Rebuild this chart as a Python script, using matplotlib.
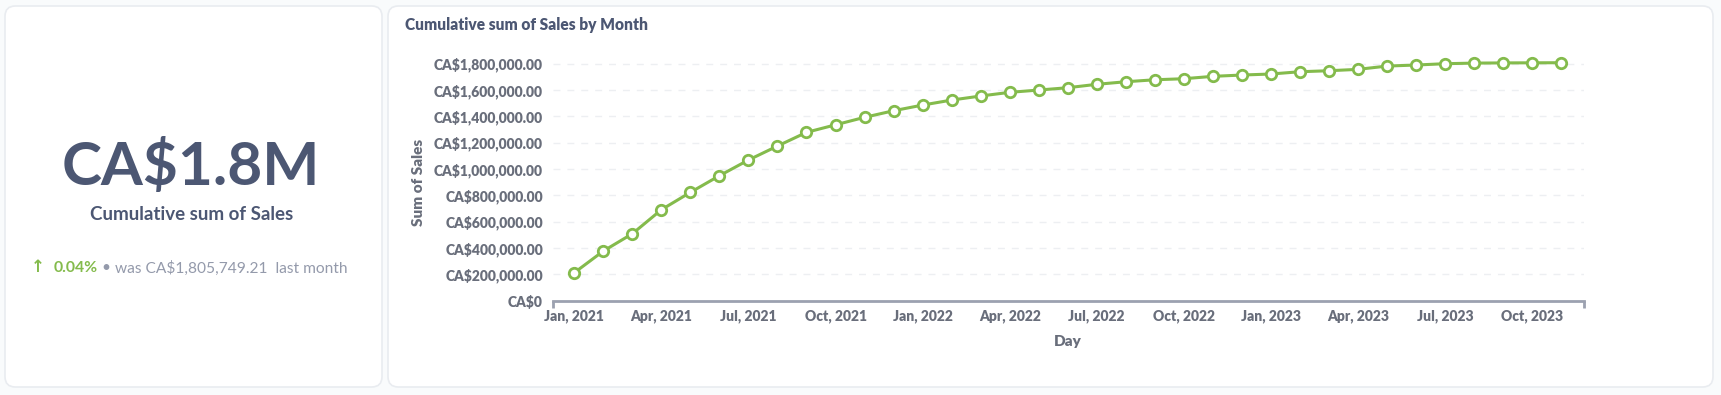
import matplotlib
matplotlib.use("Agg")
import matplotlib.pyplot as plt
from matplotlib.patches import FancyBboxPatch
from matplotlib.ticker import FuncFormatter, FixedLocator

# ---------------- data ----------------
months = ["Jan, 2021", "Feb, 2021", "Mar, 2021", "Apr, 2021", "May, 2021", "Jun, 2021",
          "Jul, 2021", "Aug, 2021", "Sep, 2021", "Oct, 2021", "Nov, 2021", "Dec, 2021",
          "Jan, 2022", "Feb, 2022", "Mar, 2022", "Apr, 2022", "May, 2022", "Jun, 2022",
          "Jul, 2022", "Aug, 2022", "Sep, 2022", "Oct, 2022", "Nov, 2022", "Dec, 2022",
          "Jan, 2023", "Feb, 2023", "Mar, 2023", "Apr, 2023", "May, 2023", "Jun, 2023",
          "Jul, 2023", "Aug, 2023", "Sep, 2023", "Oct, 2023", "Nov, 2023"]
cum_sales = [212500, 377000, 508500, 690700, 822600, 948800,
             1068000, 1174000, 1278000, 1335000, 1392000, 1442000,
             1485000, 1523000, 1553700, 1581700, 1599000, 1616700,
             1642500, 1662000, 1677000, 1685000, 1703000, 1713000,
             1720700, 1738000, 1745700, 1756000, 1781000, 1789000,
             1799000, 1803500, 1805000, 1805749.21, 1806470]
y_ticks = [0, 200000, 400000, 600000, 800000, 1000000, 1200000, 1400000, 1600000, 1800000]
x_tick_labels = ["Jan, 2021", "Apr, 2021", "Jul, 2021", "Oct, 2021", "Jan, 2022", "Apr, 2022",
                 "Jul, 2022", "Oct, 2022", "Jan, 2023", "Apr, 2023", "Jul, 2023", "Oct, 2023"]

kpi_value = "CA$1.8M"
kpi_title = "Cumulative sum of Sales"
kpi_change = "0.04%"
kpi_prev = "was CA$1,805,749.21  last month"
chart_title = "Cumulative sum of Sales by Month"

# ---------------- style ----------------
W, H = 1721, 395
DARK = "#4C5773"
GRAY = "#696E7B"
LIGHT = "#949AAB"
GREEN = "#84BB4C"
FONT = ["Lato", "DejaVu Sans"]
plt.rcParams["font.family"] = FONT
plt.rcParams["font.weight"] = "heavy"
plt.rcParams["axes.labelweight"] = "heavy"

fig = plt.figure(figsize=(W / 100, H / 100), dpi=100)
fig.patch.set_facecolor("#F9FBFC")

def fx(px):
    return px / W

def fy(py):
    return 1 - py / H

# cards
for (x0, y0, x1, y1) in [(5, 6, 382, 387), (388, 6, 1713, 387)]:
    card = FancyBboxPatch((fx(x0), fy(y1)), fx(x1 - x0), (y1 - y0) / H,
                          boxstyle="round,pad=0,rounding_size=0.006",
                          transform=fig.transFigure, facecolor="white",
                          edgecolor="#E9ECF0", linewidth=1.2, zorder=-5,
                          mutation_aspect=W / H)
    fig.patches.append(card)

# ---------------- KPI card ----------------
fig.text(fx(191), fy(167), kpi_value, ha="center", va="center",
         fontsize=43.5, fontweight="bold", color=DARK)
fig.text(fx(192), fy(215), kpi_title, ha="center", va="center",
         fontsize=13.5, fontweight="bold", color=DARK)
fig.text(fx(38), fy(267), "\u2191", ha="center", va="center",
         fontsize=12, fontweight="bold", color=GREEN, family=["DejaVu Sans"])
fig.text(fx(54), fy(268), kpi_change, ha="left", va="center",
         fontsize=11.3, fontweight="bold", color=GREEN)
fig.text(fx(106), fy(268), "\u2022", ha="center", va="center",
         fontsize=11.2, fontweight="normal", color=LIGHT)
fig.text(fx(115), fy(268), kpi_prev, ha="left", va="center",
         fontsize=11.2, fontweight="normal", color=LIGHT)

# ---------------- chart card ----------------
fig.text(fx(405), fy(25), chart_title, ha="left", va="center",
         fontsize=11.2, fontweight="heavy", color=DARK)

ax_left, ax_right = 552.7, 1583.7
ax_bottom, ax_top = 300.7, 50.4
ax = fig.add_axes([fx(ax_left), fy(ax_bottom), fx(ax_right - ax_left), (ax_bottom - ax_top) / H])
ax.set_facecolor("none")
ax.set_zorder(5)

x = list(range(len(months)))
ax.plot(x, cum_sales, color=GREEN, linewidth=2.2, marker="o", markersize=7.5,
        markerfacecolor="white", markeredgecolor=GREEN, markeredgewidth=2, zorder=3,
        clip_on=False)

ax.set_xlim(-0.745, len(months) - 1 + 0.78)
ax.set_ylim(0, 1900000)

ax.yaxis.set_major_locator(FixedLocator(y_ticks))
ax.yaxis.set_major_formatter(FuncFormatter(lambda v, p: "CA$0" if v == 0 else f"CA${v:,.2f}"))
tick_pos = [months.index(m) for m in x_tick_labels]
ax.set_xticks(tick_pos)
ax.set_xticklabels(x_tick_labels)

for v in y_ticks[1:]:
    ax.axhline(v, color="#EDEFF2", linewidth=1, dashes=(5, 5), zorder=1)

for s in ["top", "right", "left"]:
    ax.spines[s].set_visible(False)
ax.spines["bottom"].set_color("#9CA1B0")
ax.spines["bottom"].set_linewidth(2)

ax.tick_params(axis="y", length=0, pad=7, labelsize=10, labelcolor=GRAY)
ax.tick_params(axis="x", length=0, pad=6.5, labelsize=10, labelcolor=GRAY)

# end ticks on x axis
for xe in ax.get_xlim():
    ax.plot([xe, xe], [0, -0.028 * 1900000], color="#9CA1B0", linewidth=2,
            clip_on=False, zorder=2, solid_capstyle="butt")

ax.set_ylabel("Sum of Sales", fontsize=11, color=GRAY)
ax.set_xlabel("Day", fontsize=11, color=GRAY, labelpad=8)
ax.yaxis.set_label_coords((425 - ax_left) / (ax_right - ax_left),
                          (ax_bottom - 182) / (ax_bottom - ax_top))

fig.savefig("out.png", dpi=100, facecolor=fig.get_facecolor())
